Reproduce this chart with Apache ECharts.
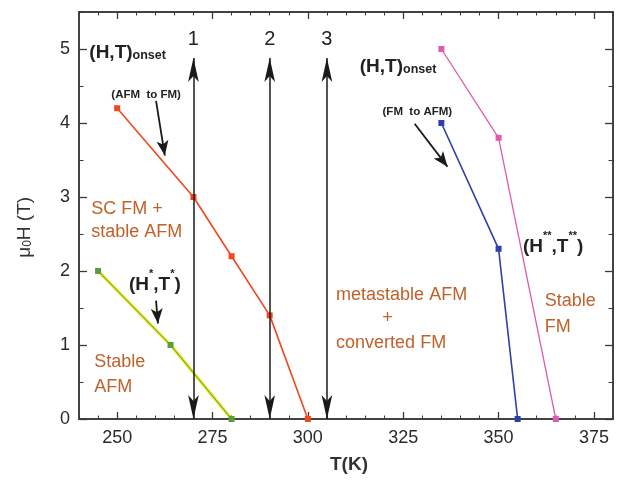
<!DOCTYPE html>
<html><head><meta charset="utf-8">
<script src="https://cdn.jsdelivr.net/npm/echarts@6/dist/echarts.min.js"></script>
<style>html,body{margin:0;padding:0;background:#fff}#c{width:617px;height:482px}</style>
</head><body><div id="c"></div>
<script>
// ---- data ----
const xTickLabels = [250, 275, 300, 325, 350, 375];
const yTickLabels = [0, 1, 2, 3, 4, 5];
const tAfmFm = [250, 270, 280, 290, 300];
const hAfmFm = [4.2, 3.0, 2.2, 1.4, 0];
const tStar = [245, 264, 280];
const hStar = [2.0, 1.0, 0];
const tFmAfm = [335, 350, 355];
const hFmAfm = [4.0, 2.3, 0];
const tDStar = [335, 350, 365];
const hDStar = [5.0, 3.8, 0];
const arrowT = [270, 290, 305];
const arrowNames = ['1', '2', '3'];
const arrowTopH = 4.88;
const pointerFrom = [[260.2, 4.30], [328.0, 3.99], [260.2, 1.60]];
const pointerTo = [[262.5, 3.56], [336.6, 3.41], [260.7, 1.29]];

const FONT = '"Liberation Sans", Arial, Helvetica, sans-serif';
const zip = (a, b) => a.map((v, i) => [v, b[i]]);
const AX = '#3a3a32';

const chart = echarts.init(document.getElementById('c'));

function xAx(pos, major, labels) {
  return {
    type: 'value', min: 240, max: 380, interval: 5, position: pos,
    axisLine: { show: true, onZero: false, lineStyle: { color: AX, width: 1.5 } },
    splitLine: { show: false },
    axisTick: major
      ? { show: true, inside: true, length: 7, customValues: xTickLabels, lineStyle: { color: AX, width: 1.3 } }
      : { show: true, inside: true, length: 3.5, lineStyle: { color: AX, width: 1 } },
    axisLabel: labels
      ? { show: true, customValues: xTickLabels, color: '#2a2a2a', fontSize: 18, fontFamily: FONT, margin: 10 }
      : { show: false }
  };
}
function yAx(pos, major, labels) {
  return {
    type: 'value', min: 0, max: 5.5, interval: 0.5, position: pos,
    axisLine: { show: true, onZero: false, lineStyle: { color: AX, width: 1.5 } },
    splitLine: { show: false },
    axisTick: major
      ? { show: true, inside: true, length: 8, customValues: yTickLabels, lineStyle: { color: AX, width: 1.3 } }
      : { show: true, inside: true, length: 4.5, lineStyle: { color: AX, width: 1 } },
    axisLabel: labels
      ? { show: true, customValues: yTickLabels, color: '#2a2a2a', fontSize: 18, fontFamily: FONT, margin: 9 }
      : { show: false }
  };
}

const lineSeries = (name, data, color, w, symColor, sym) => ({
  name, type: 'line', data, xAxisIndex: 0, yAxisIndex: 0,
  symbol: sym === false ? 'none' : 'rect', symbolSize: 6,
  lineStyle: { color, width: w },
  itemStyle: { color: symColor || color },
  emphasis: { disabled: true }, silent: true, animation: false, z: 3
});

chart.setOption({
  animation: false,
  grid: { left: 79, right: 4, top: 12, bottom: 63, containLabel: false },
  xAxis: [xAx('bottom', false, true), xAx('bottom', true, false), xAx('top', false, false), xAx('top', true, false)],
  yAxis: [yAx('left', false, true), yAx('left', true, false), yAx('right', false, false), yAx('right', true, false)],
  series: [
    lineSeries('AFM to FM onset', zip(tAfmFm, hAfmFm), '#f2461e', 1.6),
    lineSeries('H* T* base', zip(tStar, hStar), '#e8e61a', 3, '#e8e61a', false),
    lineSeries('H* T*', zip(tStar, hStar), '#5f9e3c', 1, '#5a9e3a'),
    lineSeries('FM to AFM onset', zip(tFmAfm, hFmAfm), '#2c40aa', 1.6),
    lineSeries('H** T**', zip(tDStar, hDStar), '#dc5cb0', 1.3),
    {
      type: 'line', data: [], silent: true, z: 4,
      markLine: {
        silent: true, animation: false,
        symbol: ['arrow', 'arrow'], symbolSize: [8, 24],
        label: { show: false },
        emphasis: { disabled: true },
        lineStyle: { color: '#1a1a1a', width: 1.5, type: 'solid' },
        data: arrowT.map(t => [{ coord: [t, 0] }, { coord: [t, arrowTopH] }])
      }
    },
    {
      type: 'line', data: [], silent: true, z: 4,
      markLine: {
        silent: true, animation: false,
        symbol: ['none', 'arrow'], symbolSize: [9, 15],
        label: { show: false },
        emphasis: { disabled: true },
        lineStyle: { color: '#1a1a1a', width: 1.8, type: 'solid' },
        data: pointerFrom.map((p, i) => [{ coord: p }, { coord: pointerTo[i] }])
      }
    }
  ]
});

// ---- text annotations placed in data coordinates ----
const BROWN = '#c0612a';
const DARK = '#222';
const notes = [
  { t: 242.7, h: 5.0, text: '{a|(H,T)}{b|onset}', align: 'left' },
  { t: 313.6, h: 4.81, text: '{a|(H,T)}{b|onset}', align: 'left' },
  { t: 257.6, h: 4.38, text: '(AFM  to FM)', align: 'center', small: true },
  { t: 328.7, h: 4.15, text: '(FM  to AFM)', align: 'center', small: true },
  { t: 243.2, h: 2.84, text: 'SC FM +', align: 'left', brown: true },
  { t: 243.2, h: 2.52, text: 'stable AFM', align: 'left', brown: true },
  { t: 253.1, h: 1.86, text: '{a|(H}{s|*}{a|,T}{s|*}{a|)}', align: 'left' },
  { t: 244.0, h: 0.77, text: 'Stable', align: 'left', brown: true },
  { t: 244.0, h: 0.43, text: 'AFM', align: 'left', brown: true },
  { t: 307.4, h: 1.68, text: 'metastable AFM', align: 'left', brown: true },
  { t: 320.9, h: 1.36, text: '+', align: 'center', brown: true },
  { t: 307.4, h: 1.02, text: 'converted FM', align: 'left', brown: true },
  { t: 356.4, h: 2.37, text: '{a|(H}{s|**}{a|,T}{s|**}{a|)}', align: 'left' },
  { t: 362.1, h: 1.60, text: 'Stable', align: 'left', brown: true },
  { t: 362.1, h: 1.24, text: 'FM', align: 'left', brown: true }
];
arrowT.forEach((t, i) => notes.push({ t, h: 5.13, text: arrowNames[i], align: 'center', num: true }));

const rich = {
  a: { fontSize: 19, fontWeight: 'bold', fontFamily: FONT, fill: DARK, color: DARK, lineHeight: 26, verticalAlign: 'bottom' },
  b: { fontSize: 12.5, fontWeight: 'bold', fontFamily: FONT, fill: DARK, color: DARK, lineHeight: 4, verticalAlign: 'bottom' },
  s: { fontSize: 11, fontWeight: 'bold', fontFamily: FONT, fill: DARK, color: DARK, lineHeight: 12, verticalAlign: 'top' }
};

const graphics = notes.map(n => {
  const p = chart.convertToPixel({ gridIndex: 0 }, [n.t, n.h]);
  let style;
  if (n.small) {
    style = { text: n.text, fontSize: 11.5, fontWeight: 'bold', fontFamily: FONT, fill: DARK };
  } else if (n.brown) {
    style = { text: n.text, fontSize: 18, fontFamily: FONT, fill: BROWN };
  } else if (n.num) {
    style = { text: n.text, fontSize: 20, fontFamily: FONT, fill: DARK };
  } else {
    style = { text: n.text, rich, fontFamily: FONT, fill: DARK };
  }
  style.align = n.align;
  style.verticalAlign = 'middle';
  return { type: 'text', x: p[0], y: p[1], style, silent: true, z: 10 };
});

// axis titles
const xMid = chart.convertToPixel({ gridIndex: 0 }, [310, 0]);
graphics.push({
  type: 'text', x: xMid[0] + 3, y: xMid[1] + 46, silent: true,
  style: { text: 'T(K)', fontSize: 19, fontWeight: 'bold', fontFamily: FONT, fill: '#333', align: 'center', verticalAlign: 'middle' }
});
const yMid = chart.convertToPixel({ gridIndex: 0 }, [240, 2.59]);
graphics.push({
  type: 'text', x: yMid[0] - 57, y: yMid[1], rotation: Math.PI / 2, silent: true,
  style: {
    text: '{m|μ}{o|0}{m|H (T)}', align: 'center', verticalAlign: 'middle',
    rich: {
      m: { fontSize: 19, fontFamily: FONT, fill: '#333', color: '#333', lineHeight: 24, verticalAlign: 'bottom' },
      o: { fontSize: 12, fontFamily: FONT, fill: '#333', color: '#333', lineHeight: 6, verticalAlign: 'bottom' }
    }
  }
});

chart.setOption({ graphic: graphics });
</script>
</body></html>
